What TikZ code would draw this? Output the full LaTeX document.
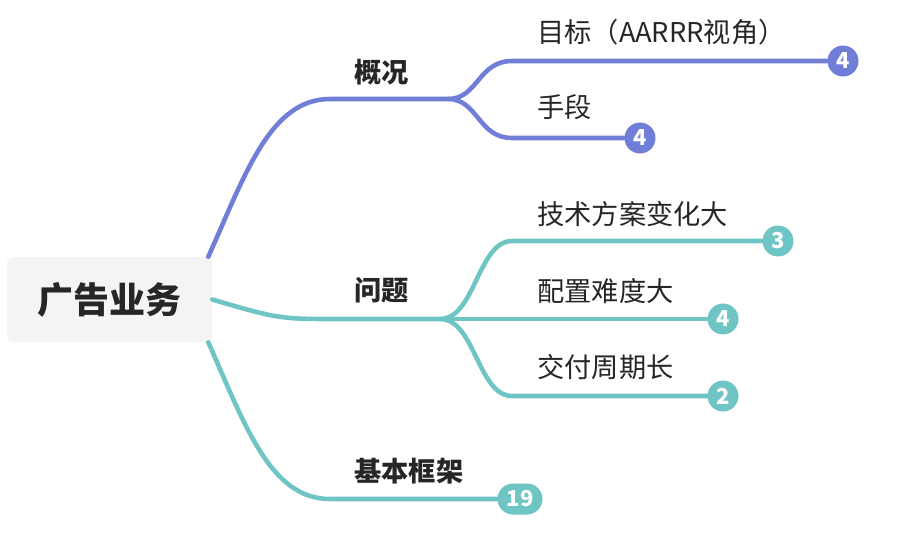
\documentclass[tikz,border=0pt]{standalone}
\usepackage{fontspec}
\setmainfont{Noto Sans CJK SC}
\usetikzlibrary{positioning}
\definecolor{branchA}{RGB}{112,126,216}
\definecolor{branchB}{RGB}{111,196,196}
\definecolor{rootfill}{RGB}{244,244,244}
\definecolor{ink}{RGB}{38,38,38}
\tikzset{
  rootbox/.style={fill=rootfill, rounded corners=0.12cm, minimum width=4.1cm, minimum height=1.7cm,
    font=\fontsize{20.5}{24}\selectfont\bfseries, text=ink},
  topic/.style={anchor=west, inner sep=0pt, font=\fontsize{15.5}{18}\selectfont\bfseries, text=ink},
  subtopic/.style={anchor=west, inner sep=0pt, font=\fontsize{15.5}{18}\selectfont, text=ink},
  badge/.style={circle, fill=#1, text=white, inner sep=0pt, minimum size=0.62cm,
    font=\fontsize{12.5}{14}\selectfont\bfseries},
  pill/.style={rounded corners=0.31cm, fill=#1, text=white, inner sep=0pt, minimum width=0.9cm,
    minimum height=0.62cm, font=\fontsize{12.5}{14}\selectfont\bfseries},
  link/.style={draw=#1, line width=2.6pt, line cap=round}
}
\begin{document}
\begin{tikzpicture}[x=0.02cm, y=-0.02cm]
  \useasboundingbox (0,0) rectangle (905,544);

  \node[rootbox] (root) at (109.5,299.5) {广告业务};

  \node[topic] (gaikuang) at (354,72) {概况};
  \node[topic] (wenti) at (354,290) {问题};
  \node[topic] (kuangjia) at (354,471) {基本框架};

  \node[subtopic] (mubiao) at (537,32) {目标（AARRR视角）};
  \node[subtopic] (shouduan) at (537,107) {手段};
  \node[subtopic] (jishu) at (537,214) {技术方案变化大};
  \node[subtopic] (peizhi) at (537,291) {配置难度大};
  \node[subtopic] (jiaofu) at (537,367) {交付周期长};

  \node[badge=branchA] (b1) at (843,61) {4};
  \node[badge=branchA] (b2) at (640,138) {4};
  \node[badge=branchB] (b3) at (778,241) {3};
  \node[badge=branchB] (b4) at (723,319) {4};
  \node[badge=branchB] (b5) at (723,396) {2};
  \node[pill=branchB] (b6) at (520,499) {19};

  \coordinate (f1) at (448,99);
  \coordinate (f2) at (440,319);

  \draw[link=branchA] ([xshift=-0.08cm]root.north east) .. controls (245,175) and (270,99) .. (330,99) -- (f1);
  \draw[link=branchB] (root.east) .. controls (275,318) and (280,319) .. (330,319) -- (f2);
  \draw[link=branchB] ([xshift=-0.08cm]root.south east) .. controls (245,425) and (270,499) .. (330,499) -- (b6);

  \foreach \to/\y in {b1/61, b2/138}
    \draw[link=branchA] (f1) .. controls (478,99) and (478,\y) .. (512,\y) -- (\to);
  \foreach \to/\y in {b3/241, b5/396}
    \draw[link=branchB] (f2) .. controls (475,319) and (478,\y) .. (512,\y) -- (\to);
  \draw[link=branchB] (f2) -- (b4);
\end{tikzpicture}
\end{document}
